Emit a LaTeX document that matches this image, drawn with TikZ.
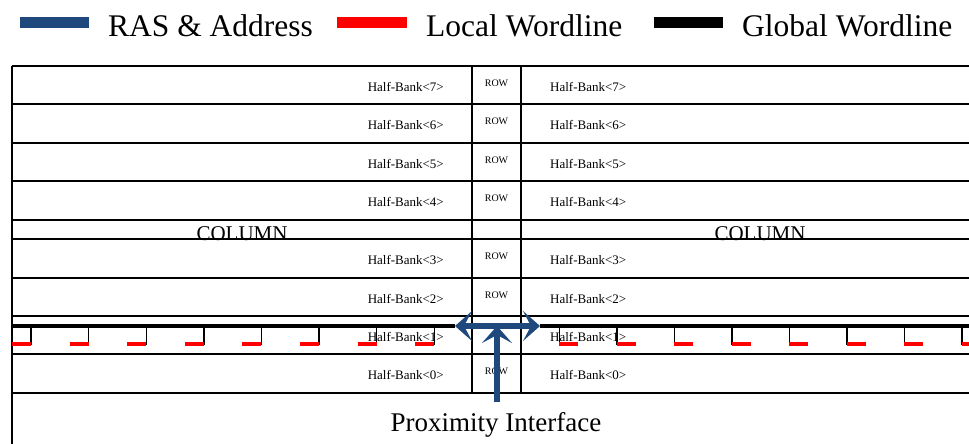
\documentclass[tikz,border=0pt]{standalone}
\usepackage{fontspec}
\setmainfont{Liberation Serif}
\usepackage{tikz}
\usetikzlibrary{arrows.meta}
\definecolor{rasblue}{RGB}{31,73,125}

\begin{document}
\begin{tikzpicture}[x=1pt, y=-1pt,
  grid/.style={line width=1.6pt, black},
  gwl/.style={line width=4.5pt, black},
  lwl/.style={line width=3.5pt, red},
  tap/.style={line width=1.4pt, black},
  ras/.style={line width=6pt, rasblue},
  rastip/.tip={Stealth[length=17pt, width=30pt, inset=8pt]},
  hb/.style={font=\fontsize{13}{15}\selectfont, inner sep=0pt},
  rowlbl/.style={font=\fontsize{10}{11}\selectfont, inner sep=0pt},
  big/.style={font=\fontsize{#1}{#1}\selectfont, inner sep=0pt, anchor=base}]
\useasboundingbox (0,0) rectangle (969,444);
\clip (0,0) rectangle (969,444);

% legend
\fill[rasblue] (20,17) rectangle (89,28);
\fill[red] (337,17) rectangle (407,28);
\fill[black] (654,17) rectangle (723,28);
\node[big=31.5, anchor=base west] (lras) at (108,37) {RAS \& Address};
\node[big=31.5, anchor=base west] (lloc) at (426,37) {Local Wordline};
\node[big=31.5, anchor=base west] (lglob) at (742,37) {Global Wordline};

% column strip labels
\node[big=21] (coll) at (242,240) {COLUMN};
\node[big=21] (colr) at (760,240) {COLUMN};

% half-banks
\foreach \n/\t in {7/66, 6/104, 5/143, 4/181, 3/239, 2/278, 1/316, 0/354}
{\node[hb, anchor=east] (hbl\n) at (444,\t+21) {Half-Bank<\n>};
 \node[hb, anchor=west] (hbr\n) at (550,\t+21) {Half-Bank<\n>};}
\foreach \n/\t in {7/66, 6/104, 5/143, 4/181, 3/239, 2/278, 0/354}
{\node[rowlbl] (row\n) at (496.5,\t+17) {ROW};}

% grid
\foreach \t in {66, 104, 143, 181, 220, 239, 278, 316, 354, 393}
{\draw[grid] (12,\t) -- (999,\t);}
\draw[grid] (12,66) -- (12,450);
\draw[grid] (472,66) -- (472,393);
\draw[grid] (521,66) -- (521,393);

% wordlines
\draw[gwl] (12,326) -- (455,326);
\draw[gwl] (540,326) -- (999,326);
\foreach \k in {0,...,7}
{\draw[tap] (31+57.6*\k,326) -- (31+57.6*\k,345);
 \draw[lwl] (12+57.6*\k,344) -- (31+57.6*\k,344);
 \draw[tap] (559.3+57.5*\k,326) -- (559.3+57.5*\k,345);
 \draw[lwl] (559.3+57.5*\k,344) -- (578.3+57.5*\k,344);}

% proximity interface
\coordinate (pl) at (455,326);
\coordinate (pr) at (540,326);
\coordinate (pc) at (497,326);
\coordinate (pb) at (497,402);
\draw[ras, rastip-rastip] (pl) -- (pr);
\draw[ras, -rastip] (pb) -- (pc);
\node[big=27] (prox) at (496,431) {Proximity Interface};

\end{tikzpicture}
\end{document}
